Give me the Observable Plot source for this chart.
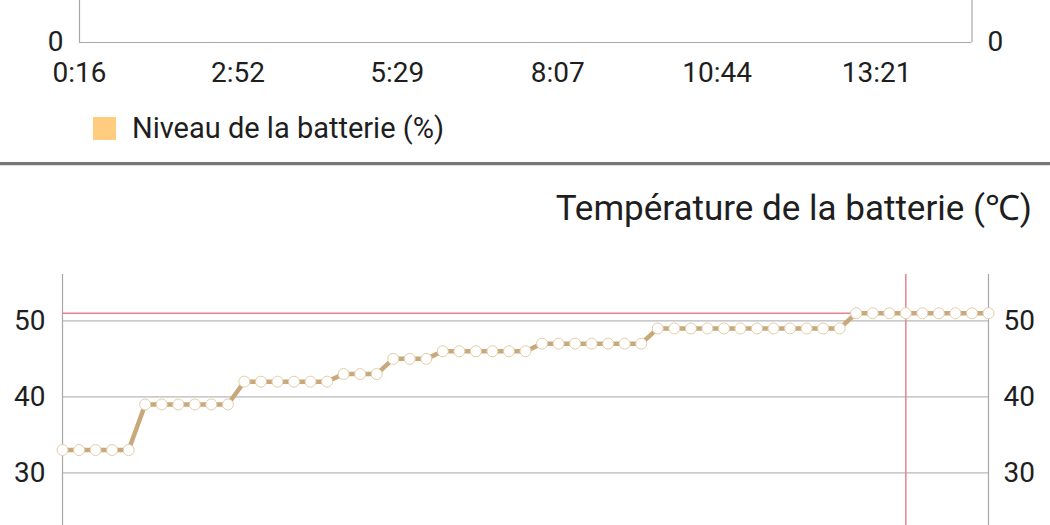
<!DOCTYPE html>
<html><head><meta charset="utf-8">
<script src="https://cdn.jsdelivr.net/npm/d3@7"></script>
<script src="https://cdn.jsdelivr.net/npm/@observablehq/plot@0.6"></script>
<style>
html,body{margin:0;padding:0;background:#fff;}
body{width:1050px;height:525px;overflow:hidden;position:relative;font-family:Roboto,"Noto Sans",sans-serif;color:#1e1e1e;}
#top{position:absolute;left:0;top:-98px;}
#top svg{overflow:visible;}
#bottom{position:absolute;left:0;top:263.6px;}
#bottom svg{overflow:hidden;}
#legend{position:absolute;left:93px;top:113.5px;height:29px;display:flex;align-items:center;font-size:29px;line-height:29px;}
#legend .sw{width:23px;height:23px;margin-right:16px;}
#sep{position:absolute;left:0;top:162px;width:1050px;height:3px;background:#767676;box-shadow:0 1px 1px #ddd;}
#title{position:absolute;right:18px;top:190.5px;font-size:35px;line-height:35px;white-space:nowrap;}
</style></head><body>
<div id="top"></div>
<div id="legend"></div>
<div id="sep"></div>
<div id="title"></div>
<div id="bottom"></div>
<script>
// ---- Top chart (battery level): only its bottom edge is visible ----
const levelSeriesName = "Niveau de la batterie (%)";
const levelColor = "#FFCC80";
const levelTickLabels = ["0:16", "2:52", "5:29", "8:07", "10:44", "13:21"];
const levelTimeEnd = "14:55";
const levelYTicks = [0];
const levelYMax = 100;

// ---- Bottom chart (battery temperature) ----
const tempTitle = "Température de la batterie (℃)";
const tempValues = [
  33, 33, 33, 33, 33,
  39, 39, 39, 39, 39, 39,
  42, 42, 42, 42, 42, 42,
  43, 43, 43,
  45, 45, 45,
  46, 46, 46, 46, 46, 46,
  47, 47, 47, 47, 47, 47, 47,
  49, 49, 49, 49, 49, 49, 49, 49, 49, 49, 49, 49,
  51, 51, 51, 51, 51, 51, 51, 51, 51
];
const tempGridTicks = [0, 10, 20, 30, 40, 50];
const tempLabelTicks = [30, 40, 50]; // the labels visible in the picture
const tempYMax = 56.1;
const highlightIndex = 51;

const toMin = s => { const [h, m] = s.split(":").map(Number); return h * 60 + m; };
const levelTickMinutes = levelTickLabels.map(toMin);
const levelDomain = [levelTickMinutes[0], toMin(levelTimeEnd)];
const labelByMin = new Map(levelTickMinutes.map((m, i) => [m, levelTickLabels[i]]));

const font = {fontFamily: "Roboto, 'Noto Sans', sans-serif", fontSize: "28px", color: "#1e1e1e", background: "#fff"};

const topPlot = Plot.plot({
  width: 1050, height: 200,
  marginLeft: 79, marginRight: 78.5, marginTop: 20, marginBottom: 60,
  style: font,
  x: {domain: levelDomain},
  y: {domain: [0, levelYMax]},
  marks: [
    Plot.ruleY(levelYTicks, {stroke: "#a8a8a8", strokeWidth: 1.2}),
    Plot.ruleX(levelDomain, {stroke: "#a8a8a8", strokeWidth: 1.2}),
    Plot.axisX({ticks: levelTickMinutes, tickFormat: m => labelByMin.get(m), tickSize: 0, tickPadding: 20, label: null}),
    Plot.axisY({anchor: "left", ticks: levelYTicks, tickSize: 0, tickPadding: 16, label: null}),
    Plot.axisY({anchor: "right", ticks: levelYTicks, tickSize: 0, tickPadding: 15.5, label: null})
  ]
});
document.getElementById("top").append(topPlot);

document.getElementById("legend").innerHTML = `<span class="sw" style="background:${levelColor}"></span><span>${levelSeriesName}</span>`;
document.getElementById("title").textContent = tempTitle;

const idx = tempValues.map((v, i) => i);
const plotTop = 10, plotH = tempYMax * 7.6;
const bottomPlot = Plot.plot({
  width: 1050, height: 525 - 263.6,
  marginLeft: 62, marginRight: 62, marginTop: plotTop, marginBottom: 0,
  style: font,
  x: {domain: [0, tempValues.length - 1], axis: null},
  y: {domain: [0, tempYMax], range: [plotTop + plotH, plotTop]},
  marks: [
    Plot.ruleY(tempGridTicks, {stroke: "#b8b8b8", strokeWidth: 1.2}),
    Plot.ruleX([0, tempValues.length - 1], {y1: 0, y2: tempYMax, stroke: "#a8a8a8", strokeWidth: 1.2}),
    Plot.ruleX([highlightIndex], {y1: 0, y2: tempYMax, stroke: "#e5848f", strokeWidth: 1.5}),
    Plot.ruleY([tempValues[highlightIndex]], {stroke: "#e5848f", strokeWidth: 1.5}),
    Plot.line(idx, {x: i => i, y: i => tempValues[i], stroke: "#c9a97b", strokeWidth: 4.5}),
    Plot.dot(idx, {x: i => i, y: i => tempValues[i], r: 5.5, fill: "#fff", stroke: "#e0cda9", strokeWidth: 1}),
    Plot.axisY({anchor: "left", ticks: tempLabelTicks, tickSize: 0, tickPadding: 17, label: null}),
    Plot.axisY({anchor: "right", ticks: tempLabelTicks, tickSize: 0, tickPadding: 15, label: null})
  ]
});
document.getElementById("bottom").append(bottomPlot);
</script>
</body></html>
